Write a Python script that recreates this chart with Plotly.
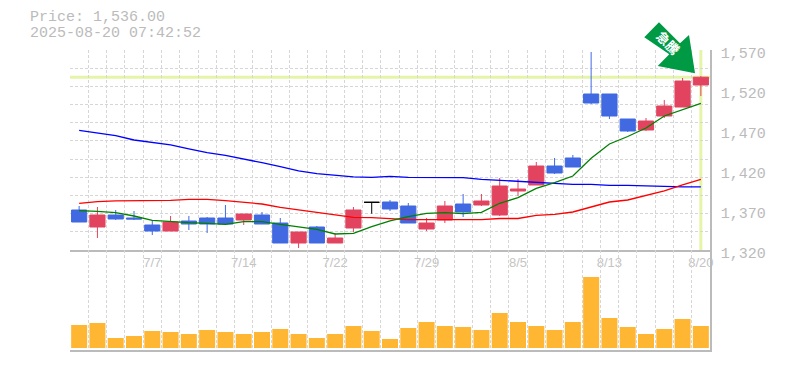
import plotly.graph_objects as go

tick_index = [4, 9, 14, 19, 24, 29, 34]
tick_dates = ["7/7", "7/14", "7/22", "7/29", "8/5", "8/13", "8/20"]
price_ticks = [1320, 1370, 1420, 1470, 1520, 1570]
price_labels = ["1,320", "1,370", "1,420", "1,470", "1,520", "1,570"]

opens = [1370, 1348.75, 1363.75, 1360, 1351.25, 1343.75, 1356.25, 1360, 1360, 1357.5, 1363.75, 1353.75,
         1328.75, 1348.75, 1328.75, 1347.5, 1379.6, 1380, 1375, 1346.25, 1357.5, 1377.5, 1376.25, 1363.75,
         1393.75, 1401.25, 1425, 1435, 1515, 1515, 1483.75, 1470, 1487.5, 1498.75, 1526.25]
highs = [1375, 1373.75, 1370, 1368.75, 1357.5, 1362.5, 1362.5, 1361.25, 1376.25, 1365, 1367.5, 1360,
         1342.5, 1350, 1340.8, 1373.75, 1379.6, 1382.5, 1378.75, 1360, 1381.25, 1390, 1390, 1410,
         1408.75, 1430, 1435, 1438.75, 1567.5, 1515, 1483.75, 1485, 1507.5, 1535, 1537.5]
lows = [1355, 1335, 1357.5, 1357.5, 1338.75, 1343.75, 1345, 1341.25, 1351.25, 1351.25, 1352.5, 1328.75,
        1322.5, 1328.75, 1328.75, 1342.5, 1365.4, 1368.75, 1353.75, 1343.75, 1353.75, 1361.25, 1375, 1362.5,
        1387.5, 1401.25, 1415, 1423.75, 1502.5, 1483.75, 1467.5, 1468.75, 1485, 1498.75, 1512.5]
closes = [1355, 1363.75, 1358.75, 1358.75, 1343.75, 1355, 1352.5, 1352.5, 1352.5, 1365, 1352.5, 1328.75,
          1342.5, 1328.75, 1335, 1370, 1379.6, 1371.25, 1353.75, 1353.75, 1375, 1367.5, 1381.25, 1400,
          1396.25, 1425, 1416.25, 1423.75, 1503.75, 1487.5, 1468.75, 1481.25, 1500, 1531.25, 1536]
ma_short = [1369.1, 1368.4, 1366.6, 1362.5, 1357.1, 1355.4, 1354.1, 1353.4, 1352.1, 1355.4, 1355.4, 1352.1,
            1348.8, 1345.9, 1340, 1340.9, 1349.1, 1356.3, 1361.6, 1365.9, 1366.6, 1365.4, 1367.1, 1378.4,
            1385.4, 1397.1, 1404.1, 1412.5, 1434.6, 1452.5, 1461.9, 1472.5, 1487.5, 1495, 1503.4]
ma_mid = [1378.4, 1380.4, 1381.3, 1381.6, 1382.1, 1382.1, 1383.4, 1383.4, 1381.6, 1379.6, 1377.5, 1373.4,
          1370.4, 1367.1, 1364.1, 1360.9, 1360.4, 1359.1, 1357.9, 1357.9, 1357.9, 1357.9, 1357.9, 1359.4,
          1359.4, 1363.4, 1364.6, 1367.5, 1373.4, 1380, 1382.5, 1387.9, 1393.8, 1401.3, 1408.4]
ma_long = [1469.6, 1466.6, 1462.9, 1457.5, 1454.6, 1451.3, 1446.3, 1441.6, 1438.4, 1434.1, 1429.1, 1424.1,
           1418.8, 1415.4, 1412.9, 1411.3, 1410.9, 1412.1, 1410.9, 1410.9, 1410.9, 1410.4, 1408.4, 1407.1,
           1405.9, 1405, 1403.4, 1402.1, 1402.1, 1400.9, 1400.9, 1400, 1398.8, 1398.8, 1398.8]
volumes = [23, 25, 10, 12, 17, 16, 14, 18, 16, 14, 16, 19, 14, 10, 14, 22, 17, 9,
           20, 26, 22, 21, 18, 35, 26, 22, 18, 26, 71, 30, 21, 14, 19, 29, 22]
current_price = 1536.0
header_lines = ["Price: 1,536.00", "2025-08-20 07:42:52"]
arrow_label = "急騰"

GREY = "#bbbbbb"
GRID = "#d6d6d6"
MONO = "Liberation Mono"
W, H = 785, 370
L, R, T, B = 70, 75, 50, 20


def px(x):
    return (x - L) / (W - L - R)


def py(y):
    return 1 - (y - T) / (H - T - B)


n = len(closes)
xs = list(range(n))
doji = [i for i in xs if opens[i] == closes[i]]
body = [i for i in xs if i not in doji]

fig = go.Figure()
for values, colour in ((ma_long, "#0000ff"), (ma_mid, "#ff0000"), (ma_short, "#008000")):
    fig.add_trace(go.Scatter(x=xs, y=values, mode="lines", line=dict(color=colour, width=1.3),
                             hoverinfo="skip", showlegend=False))

fig.add_trace(go.Candlestick(
    x=body,
    open=[opens[i] for i in body], high=[highs[i] for i in body],
    low=[lows[i] for i in body], close=[closes[i] for i in body],
    increasing=dict(line=dict(color="#e24460", width=1), fillcolor="#e24460"),
    decreasing=dict(line=dict(color="#4169e1", width=1), fillcolor="#4169e1"),
    showlegend=False, hoverinfo="skip"))
fig.add_trace(go.Candlestick(
    x=doji,
    open=[opens[i] for i in doji], high=[highs[i] for i in doji],
    low=[lows[i] for i in doji], close=[closes[i] for i in doji],
    increasing=dict(line=dict(color="#000000", width=1), fillcolor="#000000"),
    decreasing=dict(line=dict(color="#000000", width=1), fillcolor="#000000"),
    showlegend=False, hoverinfo="skip"))
fig.add_trace(go.Bar(x=xs, y=volumes, xaxis="x2", yaxis="y2", marker=dict(color="#ffb733", line_width=0),
                     width=0.875, hoverinfo="skip", showlegend=False))

minor_x = dict(dtick=1, tick0=-0.5, showgrid=True, gridcolor=GRID, gridwidth=1, griddash="3px,2px", ticklen=0)
fig.update_layout(
    width=W, height=H, autosize=False, margin=dict(l=L, r=R, t=T, b=B, autoexpand=False),
    paper_bgcolor="white", plot_bgcolor="white",
    boxgap=0.17, boxgroupgap=0, showlegend=False,
    xaxis=dict(domain=[0, 1], range=[-0.5, n - 0.5], anchor="y", tickmode="array", tickvals=tick_index,
               ticktext=tick_dates, showgrid=False, minor=minor_x, rangeslider=dict(visible=False),
               tickfont=dict(family="Liberation Sans", size=13, color="#c4c4c4"), ticks="", zeroline=False,
               showline=True, linecolor=GREY, linewidth=1.5),
    xaxis2=dict(domain=[0, 1], range=[-0.5, n - 0.5], anchor="y2", showticklabels=False, showgrid=False,
                minor=minor_x, ticks="", zeroline=False, showline=True, linecolor=GREY, linewidth=1.5),
    yaxis=dict(domain=[1 / 3, 1], range=[1320, 1570], side="right", anchor="x", tickmode="array",
               tickvals=price_ticks, ticktext=price_labels, showgrid=False,
               minor=dict(dtick=250 / 11, tick0=1320, showgrid=True, gridcolor=GRID, gridwidth=1,
                          griddash="3px,2px", ticklen=0),
               tickfont=dict(family=MONO, size=15, color=GREY), ticks="", ticklabelstandoff=6,
               ticklabelshift=3, zeroline=False, showline=True, linecolor=GREY, linewidth=1.5),
    yaxis2=dict(domain=[0, 1 / 3], range=[-2, 98], side="right", anchor="x2", showticklabels=False,
                showgrid=False, ticks="", zeroline=False, showline=True, linecolor=GREY, linewidth=1.5),
)

highlight = "#e4f5a8"
fig.add_shape(type="line", xref="x", yref="y", x0=-0.5, x1=n - 0.5, y0=current_price, y1=current_price,
              line=dict(color=highlight, width=3), layer="below")
fig.add_shape(type="line", xref="x", yref="y", x0=n - 1, x1=n - 1, y0=1320, y1=1570,
              line=dict(color=highlight, width=3), layer="below")

arrow_px = [(644.3, 37.3), (659, 22.3), (680, 43.3), (689, 35), (695, 73.3), (657.7, 66), (669.3, 54.3)]
path = "M " + " L ".join(f"{px(x):.4f},{py(y):.4f}" for x, y in arrow_px) + " Z"
fig.add_shape(type="path", xref="paper", yref="paper", path=path, fillcolor="#009944", line_width=0, layer="above")
fig.add_shape(type="rect", xref="paper", yref="paper", x0=px(650), x1=px(684), y0=py(27), y1=py(61),
              line_width=0, fillcolor="rgba(0,0,0,0)", layer="above",
              label=dict(text=f"<b>{arrow_label}</b>", textangle=45, textposition="middle center",
                         font=dict(family="Noto Sans CJK JP", size=13, color="white")))

for line, ypos in zip(header_lines, (17.5, 33.5)):
    fig.add_annotation(xref="paper", yref="paper", x=px(28), y=py(ypos), text=line, showarrow=False,
                       xanchor="left", yanchor="middle", font=dict(family=MONO, size=15, color=GREY))

fig.write_html("out.html", post_script="document.body.style.margin='0';",
               config={"displayModeBar": False, "responsive": False})
